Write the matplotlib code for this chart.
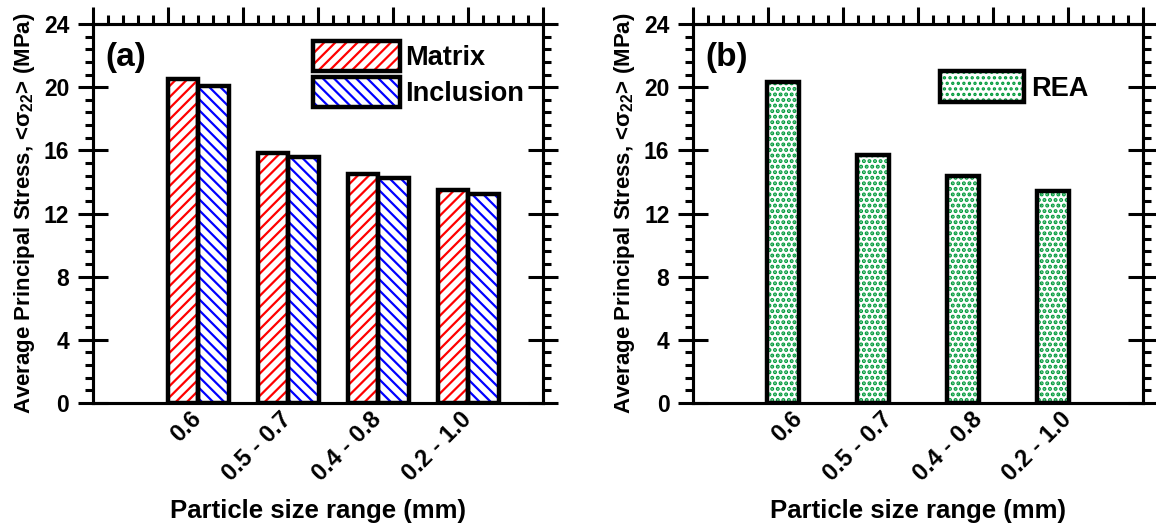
import numpy as np
import matplotlib
matplotlib.use("Agg")
import matplotlib.pyplot as plt
from matplotlib.ticker import MultipleLocator, AutoMinorLocator
from matplotlib.legend_handler import HandlerTuple

plt.rcParams['font.family'] = ['Liberation Sans', 'DejaVu Sans']
plt.rcParams['font.weight'] = 'bold'
plt.rcParams['axes.labelweight'] = 'bold'
plt.rcParams['hatch.linewidth'] = 1.6
plt.rcParams['mathtext.fontset'] = 'custom'
plt.rcParams['mathtext.rm'] = 'Liberation Sans'

# data
size_ranges = ["0.6", "0.5 - 0.7", "0.4 - 0.8", "0.2 - 1.0"]
matrix_stress = [20.5, 15.85, 14.5, 13.5]
inclusion_stress = [20.05, 15.55, 14.25, 13.25]
rea_stress = [20.3, 15.7, 14.4, 13.4]

RED = "#ff0000"
BLUE = "#0000ff"
GREEN = "#009a3a"


def hatched_bar(ax, x, h, w, color, hatch):
    """Bar with coloured hatch and a thick black outline (two layers)."""
    fill = ax.bar(x, h, w, facecolor="white", edgecolor=color, hatch=hatch,
                  linewidth=0, zorder=2)
    edge = ax.bar(x, h, w, fill=False, edgecolor="black", linewidth=3.2, zorder=3)
    return fill, edge


def style_axes(ax):
    ax.set_xlim(0, 5)
    ax.set_ylim(0, 24)
    ax.yaxis.set_major_locator(MultipleLocator(4))
    ax.yaxis.set_minor_locator(AutoMinorLocator(5))
    ax.tick_params(axis="y", which="major", direction="inout", length=22, width=2.2,
                   right=True, labelsize=16.5, pad=6)
    ax.tick_params(axis="y", which="minor", direction="out", length=6, width=2.2,
                   right=True)
    ax.tick_params(axis="x", which="both", length=0, labelsize=17, pad=9)
    for s in ax.spines.values():
        s.set_linewidth(2.2)
    # top axis carries its own evenly spaced ticks
    axt = ax.twiny()
    axt.set_xlim(0, 6)
    axt.xaxis.set_major_locator(MultipleLocator(1))
    axt.xaxis.set_minor_locator(MultipleLocator(0.2))
    axt.tick_params(axis="x", which="major", direction="out", length=12, width=2.2,
                    labeltop=False)
    axt.tick_params(axis="x", which="minor", direction="out", length=6.5, width=2.2)
    for s in axt.spines.values():
        s.set_linewidth(2.2)

    ax.set_xticks(np.arange(1, 5) + 0.17)
    ax.set_xticklabels(size_ranges, rotation=45, ha="right", va="center",
                       rotation_mode="anchor")
    ax.set_xlabel("Particle size range (mm)", fontsize=18.5, labelpad=10)
    ax.set_ylabel("Average Principal Stress, <$\\mathregular{\u03c3_{22}}$> (MPa)",
                  fontsize=16, labelpad=5)


fig = plt.figure(figsize=(11.56, 5.29), dpi=100)
ax1 = fig.add_axes([0.0804, 0.2382, 0.3893, 0.7164])
ax2 = fig.add_axes([0.5995, 0.2382, 0.3893, 0.7164])

x = np.arange(1, 5)
w = 0.34

# (a) matrix vs inclusion
m_fill, m_edge = hatched_bar(ax1, x, matrix_stress, w, RED, "///")
i_fill, i_edge = hatched_bar(ax1, x + w, inclusion_stress, w, BLUE, "\\\\\\")
style_axes(ax1)
ax1.text(0.027, 0.953, "(a)", transform=ax1.transAxes, fontsize=24,
         fontweight="bold", ha="left", va="top")
ax1.legend([(m_fill[0], m_edge[0]), (i_fill[0], i_edge[0])], ["Matrix", "Inclusion"],
           handler_map={tuple: HandlerTuple(ndivide=1, pad=0)},
           loc="upper left", bbox_to_anchor=(0.489, 0.955), frameon=False,
           fontsize=19.5, handlelength=3.2, handleheight=1.35, labelspacing=0.2,
           handletextpad=0.2, borderpad=0, borderaxespad=0)

# (b) REA, dotted fill
with plt.rc_context({"hatch.linewidth": 2.0}):
    r_fill, r_edge = hatched_bar(ax2, x, rea_stress, 0.35, GREEN, "...")
style_axes(ax2)
ax2.text(0.027, 0.953, "(b)", transform=ax2.transAxes, fontsize=24,
         fontweight="bold", ha="left", va="top")
ax2.legend([(r_fill[0], r_edge[0])], ["REA"],
           handler_map={tuple: HandlerTuple(ndivide=1, pad=0)},
           loc="upper left", bbox_to_anchor=(0.549, 0.875), frameon=False,
           fontsize=19.5, handlelength=3.1, handleheight=1.35,
           handletextpad=0.25, borderpad=0, borderaxespad=0)

fig.savefig("out.png", dpi=100)
